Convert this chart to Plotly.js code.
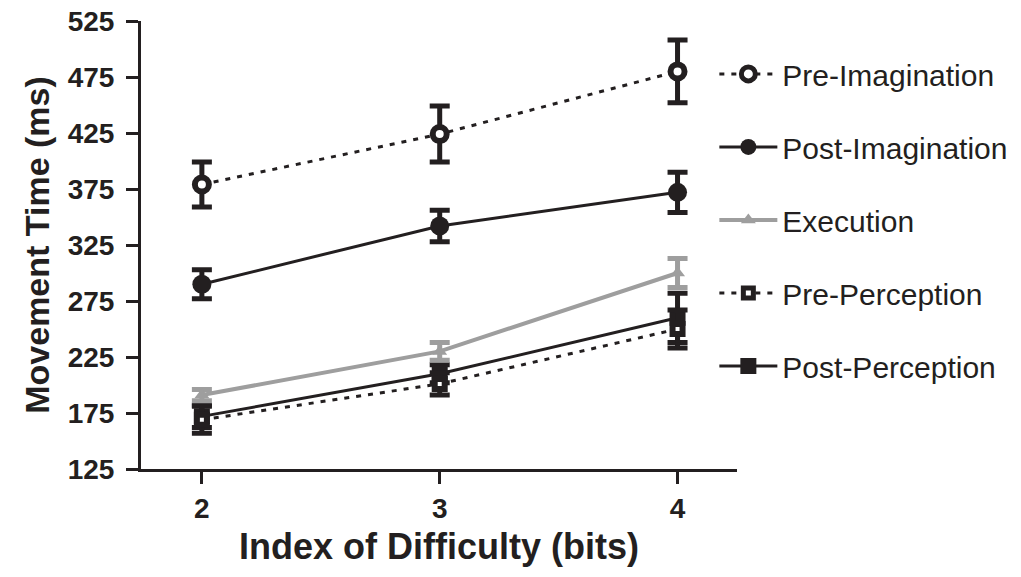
<!DOCTYPE html>
<html>
<head>
<meta charset="utf-8">
<script src="https://cdn.plot.ly/plotly-3.0.1.min.js"></script>
<style>
  html, body { margin: 0; padding: 0; background: #ffffff; }
  #chart { width: 1021px; height: 577px; }
</style>
</head>
<body>
<div id="chart"></div>
<script>
// Index of difficulty (bits)
const idBits = [2, 3, 4];

// Movement time means (ms) and error bar half-lengths
const preImagination      = [379, 424, 480];
const preImaginationErr   = [20, 25, 28];
const postImagination     = [290, 342, 372];
const postImaginationErr  = [13, 14, 18];
const execution           = [191, 230, 300];
const executionErr        = [5, 8, 13];
const prePerception       = [169, 201, 250];
const prePerceptionErr    = [12, 10, 17];
const postPerception      = [172, 210, 260];
const postPerceptionErr   = [10, 8, 22];

const seriesNames = ["Pre-Imagination", "Post-Imagination", "Execution", "Pre-Perception", "Post-Perception"];
const yTicks = [125, 175, 225, 275, 325, 375, 425, 475, 525];

const BLACK = "#231f20";
const GREY = "#9e9e9e";
const FONT = "Liberation Sans, Arial, Helvetica, sans-serif";

function errBar(arr, color) {
  return { type: "data", array: arr, visible: true, color: color, thickness: 5, width: 10 };
}

const traces = [
  {
    name: seriesNames[0], x: idBits, y: preImagination, mode: "lines+markers",
    legendgroup: "g1", legendrank: 1,
    line: { color: BLACK, width: 3, dash: "5px,7px" },
    marker: { symbol: "circle", size: 14, color: "#ffffff", line: { color: BLACK, width: 6 } },
    error_y: errBar(preImaginationErr, BLACK)
  },
  {
    name: seriesNames[1], x: idBits, y: postImagination, mode: "lines+markers",
    legendgroup: "g2", legendrank: 2,
    line: { color: BLACK, width: 3 },
    marker: { symbol: "circle", size: 19, color: BLACK },
    error_y: errBar(postImaginationErr, BLACK)
  },
  {
    name: seriesNames[4], x: idBits, y: postPerception, mode: "lines+markers",
    legendgroup: "g5", legendrank: 5,
    line: { color: BLACK, width: 3 },
    marker: { symbol: "square", size: 16, color: BLACK },
    error_y: errBar(postPerceptionErr, BLACK)
  },
  {
    name: seriesNames[3], x: idBits, y: prePerception, mode: "lines+markers",
    legendgroup: "g4", legendrank: 4,
    line: { color: BLACK, width: 3, dash: "5px,7px" },
    marker: { symbol: "square", size: 10, color: "#ffffff", line: { color: BLACK, width: 6 } },
    error_y: errBar(prePerceptionErr, BLACK)
  },
  {
    name: seriesNames[2], x: idBits, y: execution, mode: "lines+markers",
    legendgroup: "g3", legendrank: 3,
    line: { color: GREY, width: 4 },
    marker: { symbol: "triangle-up", size: 13, color: GREY },
    error_y: errBar(executionErr, GREY)
  }
];

const layout = {
  width: 1021, height: 577,
  paper_bgcolor: "#ffffff", plot_bgcolor: "#ffffff",
  margin: { l: 141, r: 284, t: 21, b: 108, autoexpand: false },
  font: { family: FONT, color: BLACK },
  showlegend: true,
  legend: {
    x: 0.962, xanchor: "left", y: 0.94, yanchor: "top",
    traceorder: "grouped", tracegroupgap: 31,
    font: { family: FONT, size: 30, color: BLACK },
    itemwidth: 58,
    bgcolor: "rgba(0,0,0,0)"
  },
  xaxis: {
    range: [1.744, 4.25], tickvals: idBits, ticktext: idBits.map(String),
    showgrid: false, zeroline: false,
    showline: true, linecolor: BLACK, linewidth: 3,
    ticks: "outside", ticklen: 12, tickwidth: 3, tickcolor: BLACK,
    tickfont: { family: FONT, size: 28, color: BLACK, weight: "bold" },
    title: { text: "<b>Index of Difficulty (bits)</b>", font: { family: FONT, size: 36, color: BLACK }, standoff: 12 },
    fixedrange: true
  },
  yaxis: {
    range: [125, 525], tickvals: yTicks, ticktext: yTicks.map(String),
    showgrid: false, zeroline: false,
    showline: true, linecolor: BLACK, linewidth: 3,
    ticks: "outside", ticklen: 12, tickwidth: 3, tickcolor: BLACK,
    ticklabelstandoff: 6,
    tickfont: { family: FONT, size: 28, color: BLACK, weight: "bold" },
    title: { text: "<b>Movement Time (ms)</b>", font: { family: FONT, size: 34, color: BLACK }, standoff: 8 },
    fixedrange: true
  }
};

Plotly.newPlot("chart", traces, layout, { displayModeBar: false, staticPlot: true });
</script>
</body>
</html>
